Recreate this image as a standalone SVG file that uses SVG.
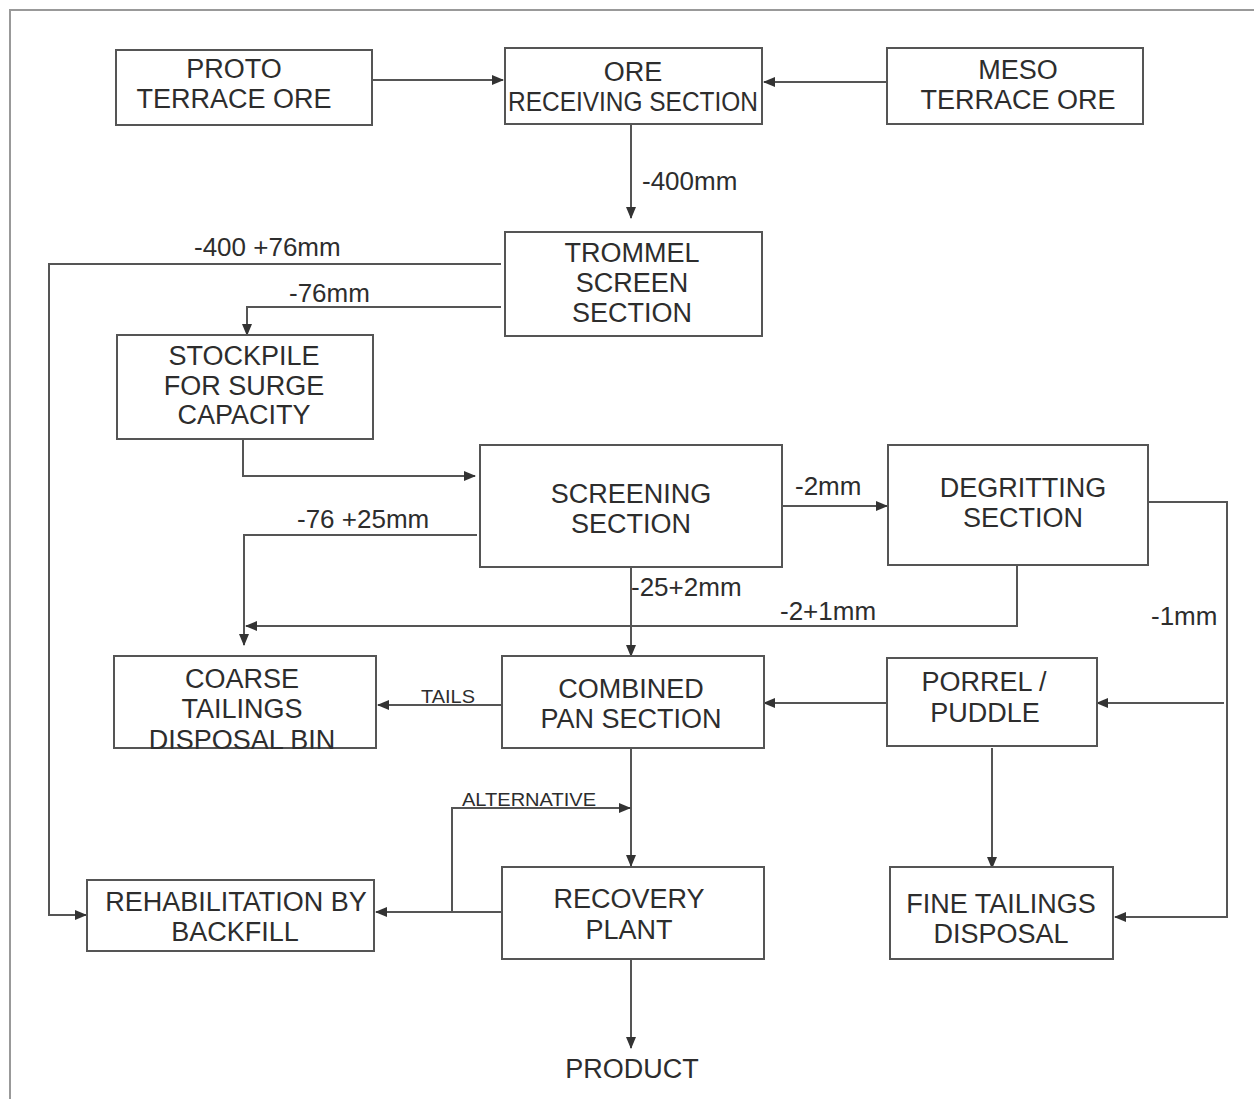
<svg xmlns="http://www.w3.org/2000/svg" width="1254" height="1099" viewBox="0 0 1254 1099">
<style>
.box{fill:#fff;stroke:#555;stroke-width:2}
.t{font-family:"Liberation Sans",Arial,sans-serif;font-size:27px;fill:#2d2d2d;text-anchor:middle}
.l{font-family:"Liberation Sans",Arial,sans-serif;font-size:26px;fill:#2d2d2d}
.s{font-family:"Liberation Sans",Arial,sans-serif;font-size:19px;fill:#2d2d2d}
.c{fill:none;stroke:#555;stroke-width:2}
.a{marker-end:url(#ah)}
</style>
<defs>
<marker id="ah" markerUnits="userSpaceOnUse" markerWidth="12" markerHeight="10" refX="11" refY="5" orient="auto">
<path d="M0,0 L12,5 L0,10 z" fill="#333"/>
</marker>
</defs>
<rect width="1254" height="1099" fill="#fff"/>
<path d="M10,1099 V10 H1254" fill="none" stroke="#999" stroke-width="2"/>

<g id="connectors">
<path class="c a" d="M372,80 H503"/>
<path class="c a" d="M887,82 H764"/>
<path class="c a" d="M631,124 V218"/>
<path class="c a" d="M501,264 H49 V915 H86"/>
<path class="c a" d="M501,307 H247 V335"/>
<path class="c a" d="M243,439 V476 H475"/>
<path class="c a" d="M782,506 H887"/>
<path class="c a" d="M477,535 H244 V645"/>
<path class="c a" d="M1017,565 V626 H246"/>
<path class="c a" d="M631,567 V656"/>
<path class="c a" d="M1148,502 H1227 V917 H1115"/>
<path class="c a" d="M1224,703 H1097"/>
<path class="c a" d="M887,703 H764"/>
<path class="c a" d="M502,705 H378"/>
<path class="c a" d="M631,748 V866"/>
<path class="c a" d="M502,912 H376"/>
<path class="c a" d="M452,912 V808 H630"/>
<path class="c a" d="M992,748 V868"/>
<path class="c a" d="M631,959 V1048"/>
<text class="l" x="642" y="190">-400mm</text>
<text class="l" x="194" y="256">-400 +76mm</text>
<text class="l" x="289" y="302">-76mm</text>
<text class="l" x="795" y="495">-2mm</text>
<text class="l" x="297" y="528">-76 +25mm</text>
<text class="l" x="631" y="596">-25+2mm</text>
<text class="l" x="780" y="620">-2+1mm</text>
<text class="l" x="1151" y="625">-1mm</text>
<text class="s" x="421" y="703" textLength="54" lengthAdjust="spacingAndGlyphs">TAILS</text>
<text class="s" x="462" y="806" textLength="134" lengthAdjust="spacingAndGlyphs">ALTERNATIVE</text>
</g>

<g id="proto"><rect class="box" x="116" y="50" width="256" height="75"/>
<text class="t" x="234" y="78">PROTO</text><text class="t" x="234" y="108">TERRACE ORE</text></g>
<g id="ore"><rect class="box" x="505" y="48" width="257" height="76"/>
<text class="t" x="633" y="81">ORE</text><text class="t" x="633" y="111" textLength="250" lengthAdjust="spacingAndGlyphs">RECEIVING SECTION</text></g>
<g id="meso"><rect class="box" x="887" y="48" width="256" height="76"/>
<text class="t" x="1018" y="79">MESO</text><text class="t" x="1018" y="109">TERRACE ORE</text></g>
<g id="trommel"><rect class="box" x="505" y="232" width="257" height="104"/>
<text class="t" x="632" y="262">TROMMEL</text><text class="t" x="632" y="292">SCREEN</text><text class="t" x="632" y="322">SECTION</text></g>
<g id="stockpile"><rect class="box" x="117" y="335" width="256" height="104"/>
<text class="t" x="244" y="365">STOCKPILE</text><text class="t" x="244" y="395">FOR SURGE</text><text class="t" x="244" y="424">CAPACITY</text></g>
<g id="screening"><rect class="box" x="480" y="445" width="302" height="122"/>
<text class="t" x="631" y="503">SCREENING</text><text class="t" x="631" y="533">SECTION</text></g>
<g id="degritting"><rect class="box" x="888" y="445" width="260" height="120"/>
<text class="t" x="1023" y="497">DEGRITTING</text><text class="t" x="1023" y="527">SECTION</text></g>
<g id="coarse"><rect class="box" x="114" y="656" width="262" height="92"/>
<text class="t" x="242" y="688">COARSE</text><text class="t" x="242" y="718">TAILINGS</text><text class="t" x="242" y="749">DISPOSAL BIN</text></g>
<g id="combined"><rect class="box" x="502" y="656" width="262" height="92"/>
<text class="t" x="631" y="698">COMBINED</text><text class="t" x="631" y="728">PAN SECTION</text></g>
<g id="porrel"><rect class="box" x="887" y="658" width="210" height="88"/>
<text class="t" x="984" y="691">PORREL /</text><text class="t" x="985" y="722">PUDDLE</text></g>
<g id="rehab"><rect class="box" x="87" y="880" width="287" height="71"/>
<text class="t" x="236" y="911">REHABILITATION BY</text><text class="t" x="235" y="941">BACKFILL</text></g>
<g id="recovery"><rect class="box" x="502" y="867" width="262" height="92"/>
<text class="t" x="629" y="908">RECOVERY</text><text class="t" x="629" y="939">PLANT</text></g>
<g id="fine"><rect class="box" x="890" y="867" width="223" height="92"/>
<text class="t" x="1001" y="913">FINE TAILINGS</text><text class="t" x="1001" y="943">DISPOSAL</text></g>
<g id="product"><text class="t" x="632" y="1078">PRODUCT</text></g>
</svg>
